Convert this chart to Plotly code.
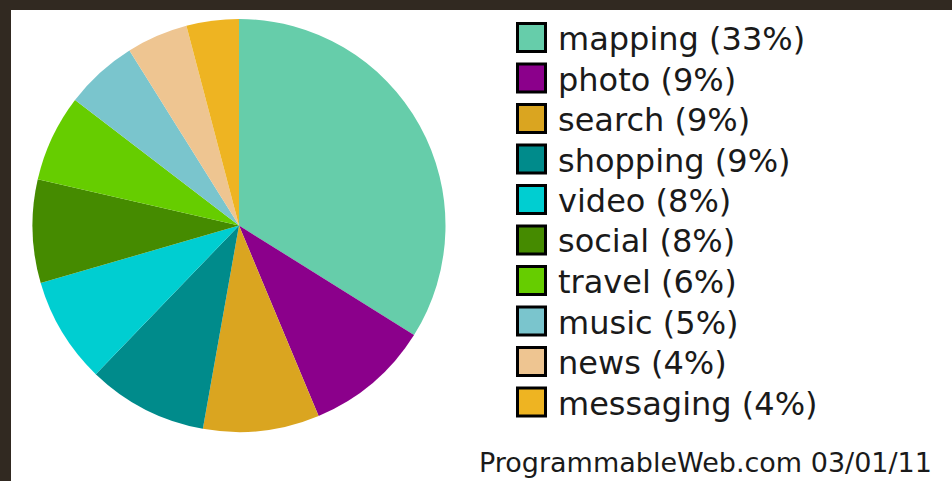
import plotly.graph_objects as go

categories = ["mapping", "photo", "search", "shopping", "video", "social",
              "travel", "music", "news", "messaging"]
shares = [33.9, 9.8, 9.1, 9.4, 8.3, 8.1, 6.8, 5.7, 4.8, 4.1]
pct_labels = ["33%", "9%", "9%", "9%", "8%", "8%", "6%", "5%", "4%", "4%"]
colors = ["#66CDAA", "#8B008B", "#DAA520", "#008B8B", "#00CED1", "#458B00",
          "#66CD00", "#7AC5CD", "#EEC591", "#EEB422"]
footer = "ProgrammableWeb.com 03/01/11"

W, H = 952, 481
def px(x):
    return x / W
def py(y):
    return 1 - y / H

fig = go.Figure(go.Pie(
    labels=categories, values=shares, sort=False, direction="clockwise",
    rotation=0, marker=dict(colors=colors, line=dict(width=0)),
    textinfo="none", hoverinfo="label+percent",
    domain=dict(x=[px(32.5), px(445.5)], y=[py(432), py(19)]),
))

shapes = [
    dict(type="rect", xref="paper", yref="paper", x0=0, x1=1, y0=py(10), y1=1,
         fillcolor="#312921", line=dict(width=0)),
    dict(type="rect", xref="paper", yref="paper", x0=0, x1=px(11), y0=0, y1=1,
         fillcolor="#312921", line=dict(width=0)),
]
annotations = []
row0, step = 37.5, 40.5
for i, (c, p, col) in enumerate(zip(categories, pct_labels, colors)):
    yc = row0 + i * step
    shapes.append(dict(type="rect", xref="paper", yref="paper",
                       x0=px(517.5), x1=px(545.5), y0=py(yc + 14), y1=py(yc - 14),
                       fillcolor=col, line=dict(color="#000000", width=3)))
    annotations.append(dict(text=f"{c} ({p})", xref="paper", yref="paper",
                            x=px(556), y=py(yc + 1.5), xanchor="left", yanchor="middle",
                            showarrow=False,
                            font=dict(family="DejaVu Sans", size=32, color="#1a1a1a")))
annotations.append(dict(text=footer, xref="paper", yref="paper",
                        x=px(934), y=py(462), xanchor="right", yanchor="middle",
                        showarrow=False,
                        font=dict(family="DejaVu Sans", size=27, color="#1a1a1a")))

fig.update_layout(
    width=W, height=H, margin=dict(l=0, r=0, t=0, b=0),
    paper_bgcolor="white", plot_bgcolor="white", showlegend=False,
    shapes=shapes, annotations=annotations,
)
fig.write_html("out.html", config={"displayModeBar": False},
               post_script="document.body.style.margin='0';document.body.style.overflow='hidden';")
